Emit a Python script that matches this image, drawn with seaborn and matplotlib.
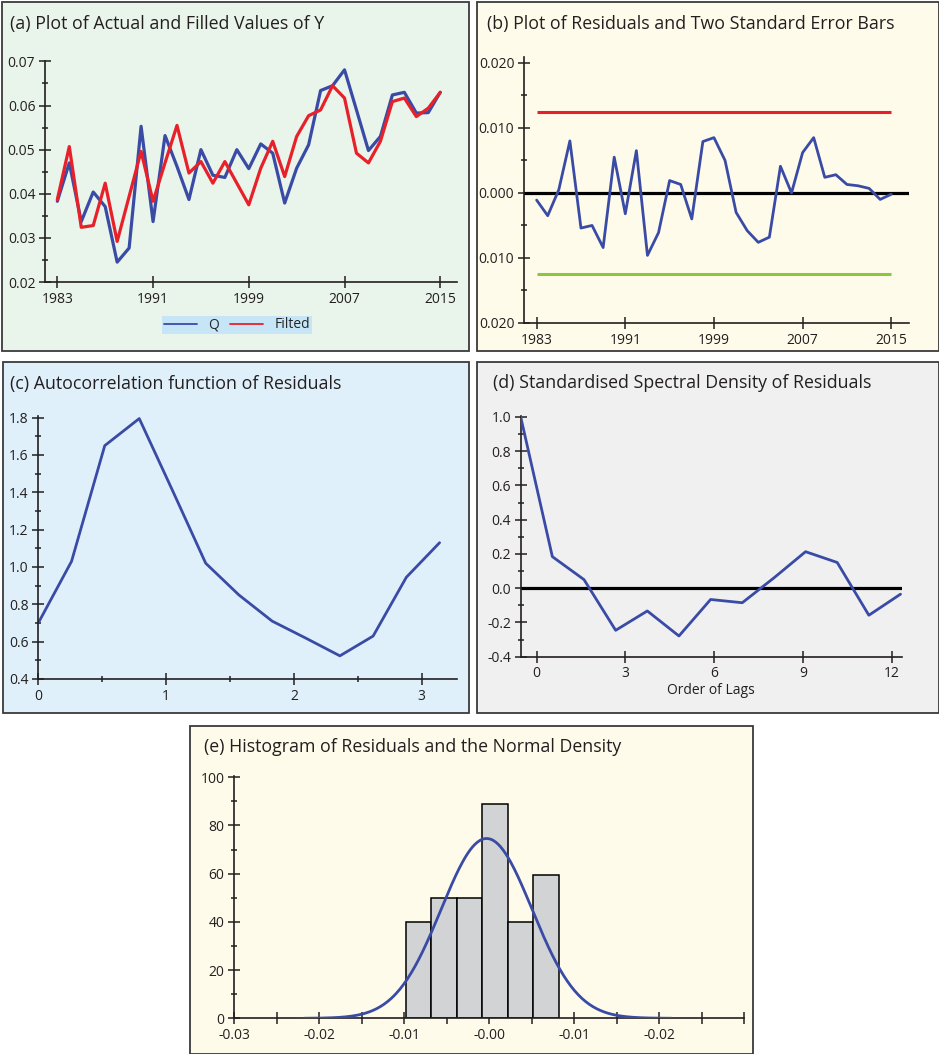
import numpy as np
import pandas as pd
import matplotlib
matplotlib.use("Agg")
import matplotlib.pyplot as plt
import seaborn as sns
from matplotlib.patches import Rectangle
from matplotlib.ticker import MultipleLocator

# ---- data ----
years = list(range(1983, 2016))
q_actual = [0.0383, 0.0470, 0.0337, 0.0404, 0.0371, 0.0245, 0.0277, 0.0553, 0.0337, 0.0532,
            0.0462, 0.0387, 0.0500, 0.0442, 0.0437, 0.0500, 0.0457, 0.0513, 0.0492, 0.0379,
            0.0458, 0.0511, 0.0634, 0.0645, 0.0681, 0.0590, 0.0498, 0.0530, 0.0624, 0.0630,
            0.0583, 0.0584, 0.0630]
q_fitted = [0.0387, 0.0507, 0.0324, 0.0328, 0.0424, 0.0292, 0.0394, 0.0496, 0.0383, 0.0470,
            0.0555, 0.0447, 0.0473, 0.0424, 0.0473, 0.0424, 0.0375, 0.0458, 0.0519, 0.0439,
            0.0530, 0.0577, 0.0590, 0.0645, 0.0617, 0.0492, 0.0470, 0.0519, 0.0609, 0.0617,
            0.0575, 0.0594, 0.0630]

residuals = [-0.0011, -0.0035, 0.0005, 0.0080, -0.0054, -0.0050, -0.0084, 0.0055, -0.0032, 0.0065,
             -0.0096, -0.0061, 0.0019, 0.0013, -0.0040, 0.0079, 0.0085, 0.0050, -0.0030, -0.0058,
             -0.0076, -0.0068, 0.0041, 0.0000, 0.0062, 0.0085, 0.0024, 0.0028, 0.0013, 0.0011,
             0.0007, -0.0010, -0.0002]
se_upper = 0.0125
se_lower = -0.0125

freq = [0.0, 0.26, 0.52, 0.79, 1.05, 1.31, 1.57, 1.83, 2.09, 2.36, 2.62, 2.88, 3.14]
acf_vals = [0.70, 1.03, 1.65, 1.795, 1.41, 1.02, 0.85, 0.71, 0.62, 0.524, 0.63, 0.945, 1.13]

lags = [-0.54, 0.53, 1.60, 2.67, 3.74, 4.81, 5.88, 6.95, 8.02, 9.09, 10.16, 11.23, 12.30]
spec_vals = [1.0, 0.184, 0.05, -0.246, -0.133, -0.279, -0.066, -0.085, 0.06, 0.213, 0.15, -0.158, -0.035]

hist_edges = [-0.0098, -0.0068, -0.0038, -0.0008, 0.0022, 0.0052, 0.0082]
hist_heights = [40, 50, 50, 89, 40, 59.5]
norm_mean = -0.0003
norm_sd = 0.00535
norm_range = [-0.0218, 0.0215]

a_xticks = [1983, 1991, 1999, 2007, 2015]
b_yticks = [-0.02, -0.01, 0.0, 0.01, 0.02]
b_ylabels = ["0.020", "0.010", "0.000", "0.010", "0.020"]
e_xticks = [-0.03, -0.025, -0.02, -0.015, -0.01, -0.005, 0.0, 0.005, 0.01, 0.015, 0.02, 0.025, 0.03]
e_xlabels = ["-0.03", "", "-0.02", "", "-0.01", "", "-0.00", "", "-0.01", "", "-0.02", "", ""]

# ---- style ----
sns.set_theme(style="ticks")
plt.rcParams["font.family"] = ["Open Sans", "DejaVu Sans"]
ink = "#231f20"
blue = "#3a4ba6"
red = "#e8202a"
green = "#8cc63f"
tick_fs = 10
title_fs = 12.8

W, H = 939, 1054
fig = plt.figure(figsize=(W / 100, H / 100), dpi=100)
fig.patch.set_facecolor("white")


def panel_box(l, t, r, b, color):
    fig.add_artist(Rectangle((l / W, 1 - b / H), (r - l) / W, (b - t) / H,
                             transform=fig.transFigure, facecolor=color,
                             edgecolor="#3a3a3a", lw=1.3, zorder=0))


def px_axes(l, t, r, b):
    ax = fig.add_axes([l / W, 1 - b / H, (r - l) / W, (b - t) / H])
    ax.set_facecolor("none")
    for s in ["top", "right"]:
        ax.spines[s].set_visible(False)
    for s in ["left", "bottom"]:
        ax.spines[s].set_linewidth(1.2)
        ax.spines[s].set_color(ink)
    ax.tick_params(which="both", direction="inout", color=ink, width=1.1,
                   labelsize=tick_fs, labelcolor=ink, pad=3)
    ax.tick_params(which="major", length=8)
    ax.tick_params(which="minor", length=5)
    return ax


def title(x, y, s):
    fig.text(x / W, 1 - y / H, s, fontsize=title_fs, color=ink, va="baseline", ha="left")


panel_box(2, 2, 469, 351, "#e9f4ea")
panel_box(477, 2, 939, 351, "#fefbea")
panel_box(3, 362, 469, 713, "#dff0fb")
panel_box(477, 362, 939, 713, "#f0f0f0")
panel_box(190, 726, 753, 1054, "#fefbea")

# (a) actual vs fitted
ax = px_axes(45, 61, 457, 282)
df_a = pd.DataFrame({"year": years, "Q": q_actual, "Filted": q_fitted})
sns.lineplot(data=df_a, x="year", y="Q", ax=ax, color=blue, lw=2.3, label="Q")
sns.lineplot(data=df_a, x="year", y="Filted", ax=ax, color=red, lw=2.3, label="Filted")
ax.set_xlim(1981.97, 2016.4)
ax.set_ylim(0.02, 0.0701)
ax.set_xticks(a_xticks)
ax.yaxis.set_major_locator(MultipleLocator(0.01))
ax.yaxis.set_minor_locator(MultipleLocator(0.005))
ax.set_yticklabels([f"{v:.2f}" for v in ax.get_yticks()])
ax.set_xlabel("")
ax.set_ylabel("")
handles, labels = ax.get_legend_handles_labels()
ax.get_legend().remove()
leg = fig.legend(handles, labels, loc="center", bbox_to_anchor=(237 / W, 1 - 325 / H),
                 ncol=2, fontsize=tick_fs, frameon=True, fancybox=False, handlelength=2.4,
                 handletextpad=0.8, columnspacing=0.8, borderpad=0.12)
leg.get_frame().set_facecolor("#c6e6f7")
leg.get_frame().set_edgecolor("none")
leg.get_frame().set_alpha(1)
for line in leg.get_lines():
    line.set_linewidth(1.3)
title(10, 29.5, "(a) Plot of Actual and Filled Values of Y")

# (b) residuals with two standard error bars
ax = px_axes(524, 57, 909, 323)
df_b = pd.DataFrame({"year": years, "resid": residuals})
ax.axhline(0, color="black", lw=2.3, zorder=1)
ax.hlines([se_upper], years[0], years[-1], color=red, lw=2.2)
ax.hlines([se_lower], years[0], years[-1], color=green, lw=2.2)
sns.lineplot(data=df_b, x="year", y="resid", ax=ax, color=blue, lw=2.0, zorder=3)
ax.set_xlim(1981.86, 2016.6)
ax.set_ylim(-0.020, 0.0209)
ax.set_xticks(a_xticks)
ax.set_yticks(b_yticks)
ax.set_yticklabels(b_ylabels)
ax.yaxis.set_minor_locator(MultipleLocator(0.005))
ax.set_xlabel("")
ax.set_ylabel("")
title(487, 29.5, "(b) Plot of Residuals and Two Standard Error Bars")

# (c) autocorrelation function
ax = px_axes(38.3, 416.5, 456.7, 679)
sns.lineplot(x=freq, y=acf_vals, ax=ax, color=blue, lw=2.0)
ax.set_xlim(0, 3.274)
ax.set_ylim(0.4, 1.806)
ax.set_xticks([0, 1, 2, 3])
ax.xaxis.set_minor_locator(MultipleLocator(0.5))
ax.yaxis.set_major_locator(MultipleLocator(0.2))
ax.yaxis.set_minor_locator(MultipleLocator(0.1))
ax.set_yticklabels([f"{v:.1f}" for v in ax.get_yticks()])
title(10, 388.5, "(c) Autocorrelation function of Residuals")

# (d) standardised spectral density
ax = px_axes(520.7, 416, 901.7, 656.7)
ax.axhline(0, color="black", lw=2.3, zorder=1)
sns.lineplot(x=lags, y=spec_vals, ax=ax, color=blue, lw=2.0, zorder=3)
ax.set_xlim(-0.54, 12.34)
ax.set_ylim(-0.4, 1.005)
ax.set_xticks([0, 3, 6, 9, 12])
ax.yaxis.set_major_locator(MultipleLocator(0.2))
ax.yaxis.set_minor_locator(MultipleLocator(0.1))
ax.set_yticklabels([f"{v:.1f}" for v in ax.get_yticks()])
ax.set_xlabel("Order of Lags", fontsize=tick_fs, color=ink, labelpad=1)
title(493, 388.5, "(d) Standardised Spectral Density of Residuals")

# (e) histogram with the normal density
ax = px_axes(234.3, 776, 744, 1018.3)
centers = [(a + b) / 2 for a, b in zip(hist_edges[:-1], hist_edges[1:])]
sns.histplot(x=centers, weights=hist_heights, bins=hist_edges, ax=ax,
             color="#d1d3d4", edgecolor="black", linewidth=1.1, alpha=1, zorder=2)
xs = np.linspace(norm_range[0], norm_range[1], 300)
dens = np.exp(-0.5 * ((xs - norm_mean) / norm_sd) ** 2) / (norm_sd * np.sqrt(2 * np.pi))
sns.lineplot(x=xs, y=dens, ax=ax, color=blue, lw=2.0, zorder=3)
ax.set_xlim(-0.03, 0.03)
ax.set_ylim(0, 100.5)
ax.set_xticks(e_xticks)
ax.set_xticklabels(e_xlabels)
ax.yaxis.set_major_locator(MultipleLocator(20))
ax.yaxis.set_minor_locator(MultipleLocator(10))
ax.set_ylabel("")
ax.set_xlabel("")
title(204, 752, "(e) Histogram of Residuals and the Normal Density")

fig.savefig("out.png", dpi=100)
